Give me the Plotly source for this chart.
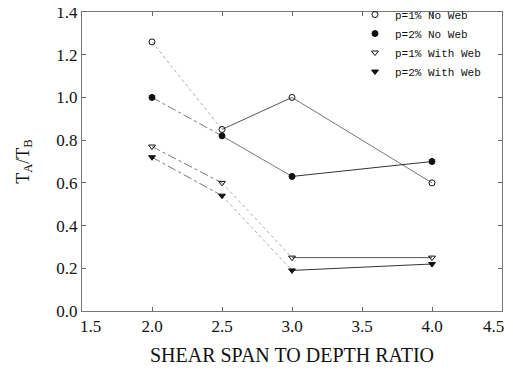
import plotly.graph_objects as go

x_vals = [2.0, 2.5, 3.0, 4.0]
p1_no_web = [1.26, 0.85, 1.00, 0.60]
p2_no_web = [1.00, 0.82, 0.63, 0.70]
p1_with_web = [0.77, 0.60, 0.25, 0.25]
p2_with_web = [0.72, 0.54, 0.19, 0.22]
x_ticks = [1.5, 2.0, 2.5, 3.0, 3.5, 4.0, 4.5]
y_ticks = [0.0, 0.2, 0.4, 0.6, 0.8, 1.0, 1.2, 1.4]

series = [
    ("p=1% No Web", p1_no_web, "circle-open", [("dot", "#aaaaaa"), ("solid", "#555555"), ("solid", "#777777")]),
    ("p=2% No Web", p2_no_web, "circle", [("dashdot", "#777777"), ("solid", "#777777"), ("solid", "#333333")]),
    ("p=1% With Web", p1_with_web, "triangle-down-open", [("dashdot", "#777777"), ("dot", "#aaaaaa"), ("solid", "#555555")]),
    ("p=2% With Web", p2_with_web, "triangle-down", [("dashdot", "#777777"), ("dot", "#aaaaaa"), ("solid", "#333333")]),
]

NB = "\u00a0" * 4
x_labels = [f"{v:.1f}" for v in x_ticks]
x_labels[0] = NB + x_labels[0]
x_labels[-1] = x_labels[-1] + NB

fig = go.Figure()
for name, ys, sym, segs in series:
    for i, (dash, col) in enumerate(segs):
        fig.add_trace(go.Scatter(
            x=x_vals[i:i + 2], y=ys[i:i + 2], mode="lines",
            line=dict(color=col, width=1, dash=dash),
            showlegend=False, hoverinfo="skip"))
    fig.add_trace(go.Scatter(
        x=x_vals, y=ys, mode="markers", name=name,
        marker=dict(symbol=sym, size=6, color="#111111",
                    line=dict(color="#111111", width=1))))

fig.update_layout(
    width=505, height=360,
    margin=dict(l=74, r=11, t=4, b=57, autoexpand=False),
    paper_bgcolor="white", plot_bgcolor="white",
    font=dict(family="Liberation Serif", size=17, color="#111111"),
    legend=dict(x=0.65, y=1.04, xanchor="left", yanchor="top",
                bgcolor="rgba(0,0,0,0)", borderwidth=0,
                font=dict(family="Liberation Mono", size=11, color="#111111"),
                itemwidth=30, tracegroupgap=0),
    xaxis=dict(range=[1.5, 4.5], tickvals=x_ticks, ticktext=x_labels,
               ticks="inside", ticklen=4, tickcolor="#666666",
               ticklabeloverflow="allow",
               showline=True, linecolor="#777777", linewidth=1, mirror="ticks",
               showgrid=False, zeroline=False, automargin=False,
               title=dict(text="SHEAR SPAN TO DEPTH RATIO", standoff=12,
                          font=dict(size=20))),
    yaxis=dict(range=[0, 1.4], tickvals=y_ticks,
               ticktext=[f"{v:.1f}" for v in y_ticks],
               ticks="inside", ticklen=4, tickcolor="#666666",
               ticklabeloverflow="allow",
               showline=True, linecolor="#777777", linewidth=1, mirror="ticks",
               showgrid=False, zeroline=False, automargin=False,
               title=dict(text="T<sub>A</sub>/T<sub>B</sub>", standoff=22,
                          font=dict(size=18))),
)

fig.write_html("out.html")
